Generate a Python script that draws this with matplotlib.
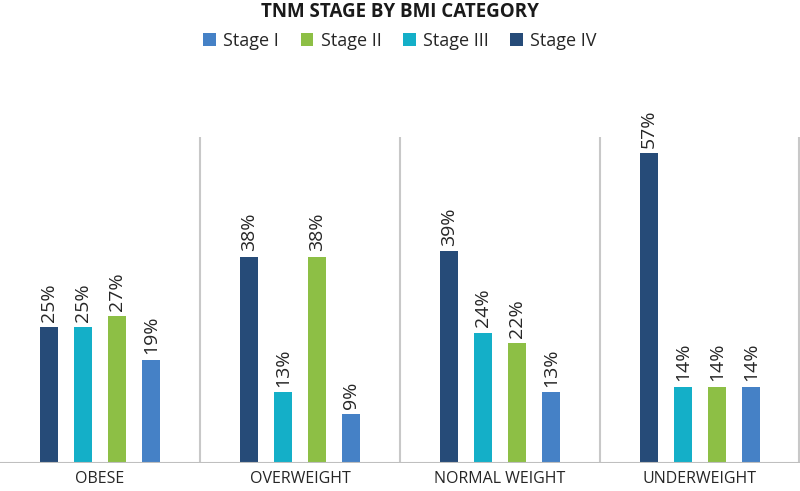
import numpy as np
import matplotlib
matplotlib.use("Agg")
from matplotlib import pyplot as plt

categories = ["OBESE", "OVERWEIGHT", "NORMAL WEIGHT", "UNDERWEIGHT"]
stage_i = [19, 9, 13, 14]
stage_ii = [27, 38, 22, 14]
stage_iii = [25, 13, 24, 14]
stage_iv = [25, 38, 39, 57]

plt.rcParams['font.family'] = ['Open Sans', 'DejaVu Sans']

fig = plt.figure(figsize=(8, 4.91), dpi=100)
ax = fig.add_axes([0, 28 / 491, 1, 326 / 491])

x = np.arange(len(categories))
width = 0.09
# drawn order in each group: IV, III, II, I
series = [
    (stage_iv, "Stage IV", "#264b78", -0.255),
    (stage_iii, "Stage III", "#14afc8", -0.085),
    (stage_ii, "Stage II", "#8dbf45", 0.085),
    (stage_i, "Stage I", "#4581c6", 0.255),
]

handles = {}
for vals, name, color, off in series:
    bars = ax.bar(x + off, vals, width, color=color, label=name, zorder=3)
    handles[name] = bars
    for b, v in zip(bars, vals):
        ax.annotate(f"{v}%", (b.get_x() + b.get_width() / 2, v),
                    xytext=(0, 4), textcoords="offset points",
                    rotation=90, ha="center", va="bottom",
                    fontsize=14, color="#262626")

ax.set_xlim(-0.5, 3.5)
ax.set_ylim(0, 60)

# separators between categories
for s in [0.5, 1.5, 2.5, 3.497]:
    ax.axvline(s, color="#c8c8c8", lw=1.5, zorder=1)
ax.axhline(0, color="#bfbfbf", lw=1.5, zorder=4)

for sp in ax.spines.values():
    sp.set_visible(False)
ax.set_yticks([])
ax.set_xticks(x)
ax.set_xticklabels(categories, fontsize=11.5, color="#262626")
ax.tick_params(axis="x", length=0, pad=6)

fig.text(0.5, 1 - 12 / 491, "TNM STAGE BY BMI CATEGORY", ha="center", va="center",
         fontsize=13.5, fontweight="bold", color="#1a1a1a")

order = ["Stage I", "Stage II", "Stage III", "Stage IV"]
fig.legend([handles[n] for n in order], order, loc="center",
           bbox_to_anchor=(0.5, 1 - 41 / 491), ncol=4, frameon=False,
           fontsize=13, handlelength=0.7, handleheight=0.7,
           handletextpad=0.4, columnspacing=1.2, labelcolor="#262626")

fig.savefig("out.png", dpi=100)
